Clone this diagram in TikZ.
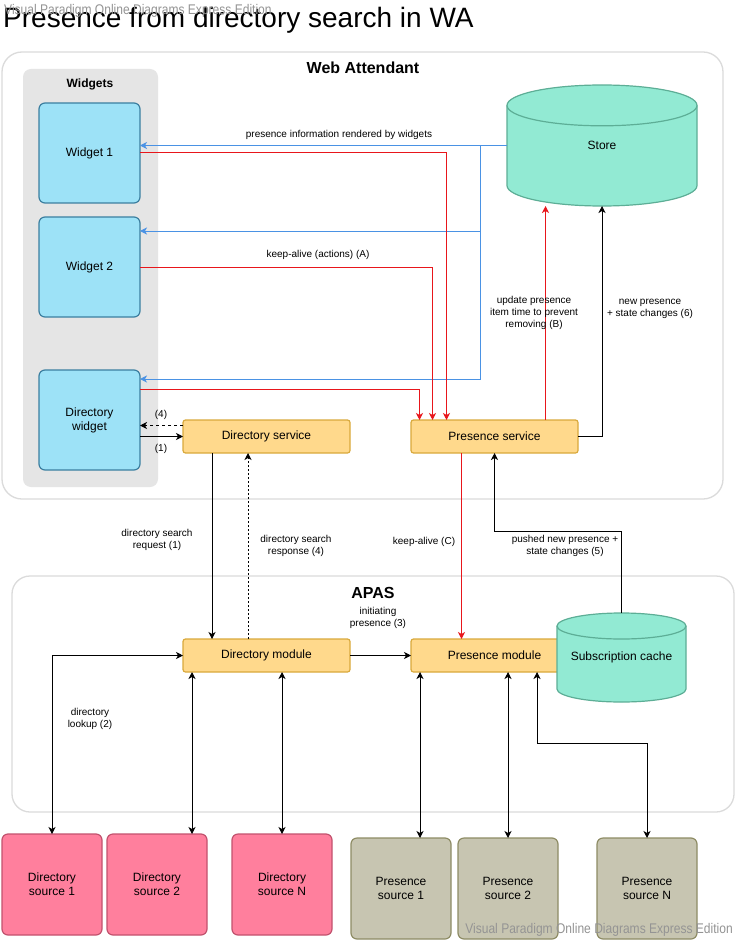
\documentclass[tikz,border=0pt]{standalone}
\usepackage{fontspec}
\setmainfont{Liberation Sans}
\usetikzlibrary{positioning,arrows.meta}
\definecolor{red}{HTML}{E8161B}
\definecolor{blue}{HTML}{4A92E4}
\definecolor{wfill}{HTML}{9DE2F7}
\definecolor{wline}{HTML}{3C7FA0}
\definecolor{sfill}{HTML}{FFD98C}
\definecolor{sline}{HTML}{D9A93C}
\definecolor{dbfill}{HTML}{92EAD3}
\definecolor{dbline}{HTML}{5DAE96}
\definecolor{dfill}{HTML}{FF7F9D}
\definecolor{dline}{HTML}{C2526E}
\definecolor{pfill}{HTML}{C7C5B1}
\definecolor{pline}{HTML}{8E8C65}

\tikzset{
  widget/.style={draw=wline, fill=wfill, line width=1.2pt, rounded corners=6pt, outer sep=0pt,
    minimum width=101pt, minimum height=100pt, align=center, font=\fontsize{12}{14}\selectfont},
  service/.style={draw=sline, fill=sfill, line width=1.2pt, rounded corners=2.5pt, outer sep=0pt,
    minimum width=167pt, minimum height=33pt, font=\fontsize{12}{14}\selectfont},
  dirsource/.style={draw=dline, fill=dfill, line width=1.2pt, rounded corners=6pt, outer sep=0pt,
    minimum width=100pt, minimum height=101pt, align=center, font=\fontsize{12}{14}\selectfont},
  pressource/.style={dirsource, draw=pline, fill=pfill},
  dbbox/.style={inner sep=0pt, outer sep=0pt, font=\fontsize{12}{14}\selectfont},
  dbshape/.style={draw=dbline, fill=dbfill, line width=1.2pt},
  group/.style={draw=black!14, line width=1.3pt, rounded corners=20pt},
  panel/.style={fill=black!10, rounded corners=8pt},
  lbl/.style={align=center, inner sep=0pt, font=\fontsize{10}{12}\selectfont},
  watermark/.style={text=black!42, inner sep=0pt, font=\fontsize{14}{14}\selectfont},
  flow/.style={draw=black, line width=1pt, -{Stealth[length=7pt,width=7pt,inset=2pt]}},
  twoway/.style={flow, {Stealth[length=7pt,width=7pt,inset=2pt]}-{Stealth[length=7pt,width=7pt,inset=2pt]}},
  infoflow/.style={flow, draw=blue},
  aliveflow/.style={flow, draw=red},
  replyflow/.style={flow, dash pattern=on 3.5pt off 2.5pt},
  dotflow/.style={flow, dash pattern=on 2pt off 2pt},
}

\begin{document}
\begin{tikzpicture}[x=1pt, y=-1pt]
  \fill[white] (0,0) rectangle (736,941);
  \useasboundingbox (0,0) rectangle (736,941);

  % Define groups
  \node[group, minimum width=721pt, minimum height=447pt] (wa) at (362.5,275.5) {};
  \node[group, rounded corners=18pt, minimum width=722pt, minimum height=236pt] (apas) at (373,694) {};
  \node[panel, minimum width=135pt, minimum height=418pt] (wpanel) at (90.5,278) {};
  \node[font=\bfseries\fontsize{16}{18}\selectfont] (watitle) at (363,68) {Web Attendant};
  \node[font=\bfseries\fontsize{12}{14}\selectfont] (wptitle) at (90,84) {Widgets};
  \node[font=\bfseries\fontsize{16}{18}\selectfont] (apastitle) at (373,593) {APAS};

  % Define nodes
  \node[widget] (w1) at (89.5,153) {Widget 1};
  \node[widget, below=14pt of w1] (w2) {Widget 2};
  \node[widget, below=53pt of w2] (dw) {Directory\\widget};
  \node[service] (ds) at (266.5,436.5) {Directory service};
  \node[service, right=61pt of ds] (ps) {Presence service};
  \coordinate (storec) at (602,145.5);
  \filldraw[dbshape] ([shift={(-95,-40.1)}]storec) -- ++(0,80.2)
    arc[start angle=180, end angle=360, x radius=95pt, y radius=20.4pt] -- ++(0,-80.2)
    arc[start angle=0, end angle=180, x radius=95pt, y radius=20.4pt] -- cycle;
  \draw[dbshape, fill=none] ([shift={(-95,-40.1)}]storec) arc[start angle=180, end angle=360, x radius=95pt, y radius=20.4pt];
  \node[dbbox, minimum width=190pt, minimum height=121pt] (store) at (storec) {Store};
  \node[service] (dm) at (266.5,655.5) {Directory module};
  \node[service, right=61pt of dm] (pm) {Presence module};
  \coordinate (cachec) at (621.5,657.5);
  \filldraw[dbshape] ([shift={(-64.5,-31.5)}]cachec) -- ++(0,63)
    arc[start angle=180, end angle=360, x radius=64.5pt, y radius=13pt] -- ++(0,-63)
    arc[start angle=0, end angle=180, x radius=64.5pt, y radius=13pt] -- cycle;
  \draw[dbshape, fill=none] ([shift={(-64.5,-31.5)}]cachec) arc[start angle=180, end angle=360, x radius=64.5pt, y radius=13pt];
  \node[dbbox, minimum width=129pt, minimum height=89pt] (cache) at (cachec) {Subscription cache};
  \node[dirsource] (dsrc1) at (52,884.5) {Directory\\source 1};
  \node[dirsource, right=5pt of dsrc1] (dsrc2) {Directory\\source 2};
  \node[dirsource, right=25pt of dsrc2] (dsrcN) {Directory\\source N};
  \node[pressource] (psrc1) at (401,888.5) {Presence\\source 1};
  \node[pressource, right=7pt of psrc1] (psrc2) {Presence\\source 2};
  \node[pressource, right=39pt of psrc2] (psrcN) {Presence\\source N};

  % Connect the nodes
  \coordinate (bus) at (480,146);
  \draw[infoflow] (store.west) -- (w1.east |- store.west);
  \draw[infoflow] (bus) |- ([shift={(0,-36)}]w2.east);
  \draw[infoflow] (bus) |- ([shift={(0,-41)}]dw.east);
  \draw[aliveflow] (w1.east) -| ([xshift=-48pt]ps.north);
  \draw[aliveflow] (w2.east) -| ([xshift=-62pt]ps.north);
  \draw[aliveflow] ([shift={(0,-31)}]dw.east) -| ([xshift=-75pt]ps.north);
  \draw[aliveflow] ([xshift=51pt]ps.north) -- ([xshift=-56.5pt]store.south);
  \draw[flow] (ps.east) -| (store.south);
  \draw[replyflow] ([shift={(0,-11)}]ds.west) -- ([shift={(0,5.5)}]dw.east);
  \draw[flow] (dw.east |- ds.west) -- (ds.west);
  \draw[flow] ([xshift=-54.5pt]ds.south) -- ([xshift=-54.5pt]dm.north);
  \draw[dotflow] ([xshift=-18.5pt]dm.north) -- ([xshift=-18.5pt]ds.south);
  \draw[aliveflow] ([xshift=-33pt]ps.south) -- ([xshift=-33pt]pm.north);
  \draw[flow] (cache.north) -- ++(0,-82) -| (ps.south);
  \draw[flow] (dm.east) -- (pm.west);
  \draw[twoway] (dsrc1.north) |- (dm.west);
  \draw[twoway] ([xshift=35pt]dsrc2.north) -- ([xshift=-74.5pt]dm.south);
  \draw[twoway] (dsrcN.north) -- ([xshift=15.5pt]dm.south);
  \draw[twoway] ([xshift=19pt]psrc1.north) -- ([xshift=-74.5pt]pm.south);
  \draw[twoway] (psrc2.north) -- ([xshift=13.5pt]pm.south);
  \draw[twoway] (psrcN.north) -- ++(0,-95) -| ([xshift=42.5pt]pm.south);

  % Labels
  \node[lbl] (lblinfo) at (339,135) {presence information rendered by widgets};
  \node[lbl] (lblkeepA) at (318,255) {keep-alive (actions) (A)};
  \node[lbl] (lblupdate) at (534,313) {update presence\\item time to prevent\\removing (B)};
  \node[lbl] (lblnew) at (650,309) {new presence\\+ state changes (6)};
  \node[lbl] (lblfour) at (161,415) {(4)};
  \node[lbl] (lblone) at (161,449) {(1)};
  \node[lbl] (lblrequest) at (157,540) {directory search\\request (1)};
  \node[lbl] (lblresponse) at (296,546) {directory search\\response (4)};
  \node[lbl] (lblkeepC) at (424,542) {keep-alive (C)};
  \node[lbl] (lblpushed) at (565,546) {pushed new presence +\\state changes (5)};
  \node[lbl] (lblinit) at (378,618) {initiating\\presence (3)};
  \node[lbl] (lbllookup) at (90,719) {directory\\lookup (2)};

  % Title and marks
  \node[anchor=base west, inner sep=0pt, font=\fontsize{28}{30}\selectfont] (title) at (3,28) {Presence from directory search in WA};
  \node[watermark, anchor=west] (marktop) at (4,11) {\scalebox{0.86}[1]{Visual Paradigm Online Diagrams Express Edition}};
  \node[watermark, anchor=east] (markbottom) at (733,930) {\scalebox{0.86}[1]{Visual Paradigm Online Diagrams Express Edition}};
\end{tikzpicture}
\end{document}
